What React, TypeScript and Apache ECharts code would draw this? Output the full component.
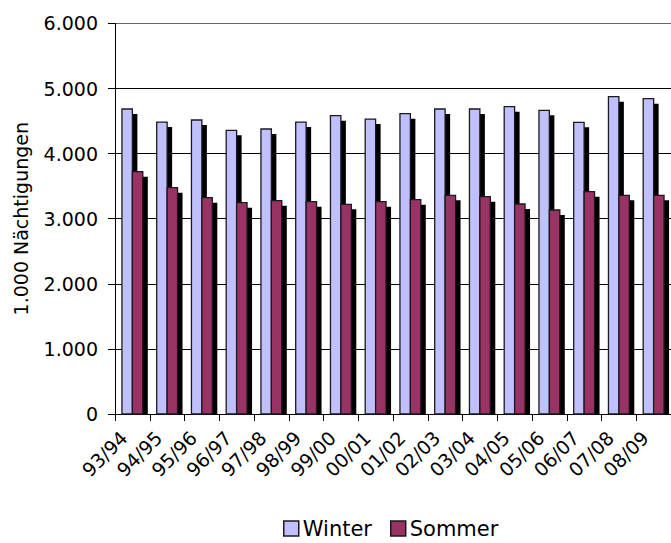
import React, { useEffect, useRef } from "react";
import * as echarts from "echarts";

const categories = ["93/94", "94/95", "95/96", "96/97", "97/98", "98/99", "99/00", "00/01", "01/02", "02/03", "03/04", "04/05", "05/06", "06/07", "07/08", "08/09"];
const winter = [4685, 4485, 4516, 4357, 4378, 4485, 4583, 4531, 4613, 4685, 4685, 4721, 4665, 4480, 4874, 4843];
const sommer = [3722, 3476, 3323, 3246, 3277, 3261, 3221, 3261, 3292, 3359, 3338, 3226, 3134, 3415, 3359, 3359];
const yTicks = [0, 1000, 2000, 3000, 4000, 5000, 6000];

const FONT = "DejaVu Sans";
const WINTER_COLOR = "#C0C0FF";
const SOMMER_COLOR = "#993366";

function makeRender(offset: number, color: string) {
  return (params: any, api: any) => {
    const idx = api.value(0);
    const v = api.value(1);
    const base = api.coord([idx, 0]);
    const top = api.coord([idx, v]);
    const band = api.size([1, 0])[0];
    const start = base[0] - band / 2;
    const bw = 0.3 * band;
    const bx = start + offset * band;
    const h = base[1] - top[1];
    return {
      type: "group",
      children: [
        {
          type: "rect",
          shape: { x: bx + 5, y: top[1] + 5, width: bw, height: h - 5 },
          style: { fill: "#000" },
        },
        {
          type: "rect",
          shape: { x: bx, y: top[1], width: bw, height: h },
          style: { fill: color, stroke: "#1a1a1a", lineWidth: 1.3 },
        },
      ],
    };
  };
}

export default function App() {
  const ref = useRef<HTMLDivElement>(null);
  useEffect(() => {
    if (!ref.current) return;
    const chart = echarts.init(ref.current, null, { renderer: "svg" });
    const gridColors = yTicks.map((t) => (t === 6000 ? "#666" : "#000"));
    chart.setOption({
      animation: false,
      backgroundColor: "#fff",
      grid: { left: 115, top: 23.4, width: 557.6, height: 390.6 },
      legend: {
        left: 278,
        top: 513,
        itemWidth: 15,
        itemHeight: 15,
        itemGap: 18,
        textStyle: { fontFamily: FONT, fontSize: 21, color: "#000", padding: [0, 0, 0, -1] },
        data: [
          { name: "Winter", icon: "rect", itemStyle: { color: WINTER_COLOR, borderColor: "#1a1a1a", borderWidth: 1.5 } },
          { name: "Sommer", icon: "rect", itemStyle: { color: SOMMER_COLOR, borderColor: "#1a1a1a", borderWidth: 1.5 } },
        ],
      },
      xAxis: {
        type: "category",
        data: categories,
        boundaryGap: true,
        axisLine: { lineStyle: { color: "#000", width: 1 } },
        axisTick: { show: true, length: 7, lineStyle: { color: "#000" } },
        axisLabel: {
          rotate: 45,
          margin: 12,
          interval: 0,
          padding: [0, 12, 0, 0],
          fontFamily: FONT,
          fontSize: 19,
          color: "#000",
        },
        splitLine: { show: false },
      },
      yAxis: {
        type: "value",
        min: 0,
        max: 6000,
        interval: 1000,
        name: "1.000 Nächtigungen",
        nameLocation: "middle",
        nameRotate: 90,
        nameGap: 85,
        nameTextStyle: { fontFamily: FONT, fontSize: 19, color: "#000" },
        axisLine: { show: true, lineStyle: { color: "#000", width: 1 } },
        axisTick: { show: true, length: 7, lineStyle: { color: "#000" } },
        axisLabel: {
          margin: 17,
          fontFamily: FONT,
          fontSize: 19,
          color: "#000",
          formatter: (v: number) => (v === 0 ? "0" : String(v / 1000) + ".000"),
        },
        splitLine: { show: true, lineStyle: { color: gridColors, width: 1 } },
      },
      series: [
        {
          name: "Winter",
          type: "custom",
          itemStyle: { color: WINTER_COLOR },
          renderItem: makeRender(0.2, WINTER_COLOR),
          encode: { x: 0, y: 1 },
          data: winter.map((v, i) => [i, v]),
          z: 2,
        },
        {
          name: "Sommer",
          type: "custom",
          itemStyle: { color: SOMMER_COLOR },
          renderItem: makeRender(0.5, SOMMER_COLOR),
          encode: { x: 0, y: 1 },
          data: sommer.map((v, i) => [i, v]),
          z: 3,
        },
      ],
    });
    return () => chart.dispose();
  }, []);
  return (
    <div
      ref={ref}
      style={{ position: "fixed", left: 0, top: 0, width: 671, height: 543, background: "#fff" }}
    />
  );
}
